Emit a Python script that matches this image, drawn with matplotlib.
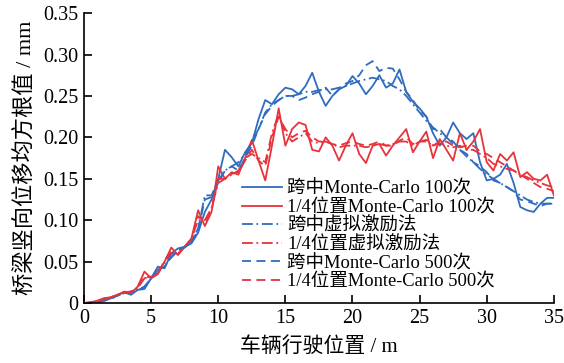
import numpy as np
import matplotlib
matplotlib.use('Agg')
import matplotlib.pyplot as plt

plt.rcParams['font.family'] = ['Liberation Serif', 'Noto Sans CJK SC']
plt.rcParams['axes.unicode_minus'] = False

# vehicle position (m), every 0.5 m
pos = np.arange(0, 35.01, 0.5)

# RMS bridge displacement (mm)
mid_mc100 = [0, 0, 0.001, 0.003, 0.006, 0.010, 0.013, 0.010, 0.016, 0.017,
             0.030, 0.044, 0.042, 0.060, 0.066, 0.068, 0.072, 0.085, 0.110, 0.125,
             0.150, 0.185, 0.176, 0.165, 0.182, 0.193, 0.222, 0.245, 0.240, 0.252,
             0.260, 0.258, 0.252, 0.262, 0.278, 0.255, 0.238, 0.250, 0.258, 0.262,
             0.274, 0.265, 0.252, 0.262, 0.275, 0.260, 0.265, 0.282, 0.255, 0.243,
             0.235, 0.225, 0.205, 0.190, 0.200, 0.218, 0.205, 0.198, 0.205, 0.170,
             0.148, 0.150, 0.155, 0.168, 0.145, 0.116, 0.112, 0.110, 0.120, 0.127,
             0.127]
qtr_mc100 = [0, 0.001, 0.003, 0.006, 0.007, 0.010, 0.014, 0.012, 0.020, 0.038,
             0.030, 0.035, 0.050, 0.067, 0.058, 0.068, 0.078, 0.112, 0.093, 0.110,
             0.165, 0.150, 0.158, 0.155, 0.175, 0.197, 0.172, 0.148, 0.190, 0.235,
             0.190, 0.210, 0.218, 0.215, 0.185, 0.183, 0.200, 0.190, 0.172, 0.190,
             0.205, 0.180, 0.169, 0.190, 0.192, 0.178, 0.190, 0.200, 0.210, 0.182,
             0.195, 0.207, 0.175, 0.198, 0.185, 0.172, 0.205, 0.185, 0.195, 0.210,
             0.170, 0.160, 0.180, 0.172, 0.182, 0.152, 0.158, 0.150, 0.148, 0.155,
             0.130]
mid_pem = [0, 0, 0.001, 0.003, 0.006, 0.009, 0.012, 0.014, 0.016, 0.020,
           0.030, 0.040, 0.045, 0.055, 0.063, 0.068, 0.075, 0.090, 0.130, 0.130,
           0.148, 0.160, 0.165, 0.170, 0.180, 0.195, 0.210, 0.230, 0.240, 0.245,
           0.250, 0.250, 0.252, 0.255, 0.255, 0.257, 0.258, 0.258, 0.260, 0.262,
           0.265, 0.268, 0.270, 0.272, 0.270, 0.268, 0.262, 0.258, 0.250, 0.240,
           0.230, 0.220, 0.212, 0.205, 0.200, 0.192, 0.185, 0.177, 0.170, 0.162,
           0.155, 0.150, 0.145, 0.140, 0.135, 0.130, 0.125, 0.122, 0.120, 0.120,
           0.120]
qtr_pem = [0, 0.001, 0.002, 0.005, 0.007, 0.010, 0.013, 0.014, 0.018, 0.030,
           0.032, 0.036, 0.050, 0.060, 0.060, 0.068, 0.078, 0.100, 0.100, 0.115,
           0.145, 0.150, 0.155, 0.160, 0.175, 0.180, 0.175, 0.170, 0.205, 0.228,
           0.205, 0.195, 0.200, 0.205, 0.195, 0.193, 0.195, 0.192, 0.188, 0.190,
           0.190, 0.190, 0.188, 0.190, 0.192, 0.190, 0.192, 0.195, 0.195, 0.190,
           0.195, 0.195, 0.190, 0.193, 0.190, 0.188, 0.190, 0.185, 0.185, 0.180,
           0.175, 0.168, 0.165, 0.162, 0.160, 0.155, 0.152, 0.148, 0.145, 0.142,
           0.140]
mid_mc500 = [0, 0, 0.001, 0.003, 0.005, 0.009, 0.012, 0.013, 0.016, 0.019,
             0.030, 0.041, 0.044, 0.056, 0.064, 0.067, 0.074, 0.088, 0.125, 0.128,
             0.145, 0.160, 0.165, 0.160, 0.175, 0.190, 0.210, 0.228, 0.238, 0.245,
             0.250, 0.250, 0.245, 0.248, 0.252, 0.255, 0.260, 0.250, 0.258, 0.265,
             0.268, 0.275, 0.287, 0.292, 0.280, 0.284, 0.283, 0.270, 0.255, 0.245,
             0.232, 0.225, 0.210, 0.210, 0.200, 0.195, 0.185, 0.180, 0.170, 0.165,
             0.158, 0.148, 0.145, 0.140, 0.135, 0.125, 0.123, 0.120, 0.117, 0.120,
             0.120]
qtr_mc500 = [0, 0.001, 0.002, 0.005, 0.007, 0.010, 0.013, 0.013, 0.019, 0.032,
             0.031, 0.035, 0.052, 0.062, 0.059, 0.068, 0.077, 0.105, 0.097, 0.112,
             0.150, 0.150, 0.156, 0.158, 0.172, 0.185, 0.172, 0.165, 0.200, 0.225,
             0.210, 0.200, 0.205, 0.208, 0.200, 0.195, 0.195, 0.192, 0.190, 0.193,
             0.195, 0.192, 0.190, 0.192, 0.195, 0.190, 0.190, 0.196, 0.200, 0.192,
             0.195, 0.197, 0.190, 0.195, 0.195, 0.190, 0.188, 0.190, 0.190, 0.183,
             0.180, 0.175, 0.170, 0.165, 0.160, 0.155, 0.150, 0.145, 0.140, 0.138,
             0.135]

labels = ['跨中Monte-Carlo 100次', '1/4位置Monte-Carlo 100次',
          '跨中虚拟激励法', '1/4位置虚拟激励法',
          '跨中Monte-Carlo 500次', '1/4位置Monte-Carlo 500次']

blue = '#2f6cbf'
red = '#e8323c'

fig = plt.figure(figsize=(5.64, 3.63), dpi=100)
ax = fig.add_axes([0.149, 0.165, 0.833, 0.799])

lw = 1.3
ax.plot(pos, mid_mc100, color=blue, lw=lw, label=labels[0])
ax.plot(pos, qtr_mc100, color=red, lw=lw, label=labels[1])
ax.plot(pos, mid_pem, color=blue, lw=lw, dashes=(6, 2, 1, 2), label=labels[2])
ax.plot(pos, qtr_pem, color=red, lw=lw, dashes=(6, 2, 1, 2), label=labels[3])
ax.plot(pos, mid_mc500, color=blue, lw=lw, dashes=(5, 3), label=labels[4])
ax.plot(pos, qtr_mc500, color=red, lw=lw, dashes=(5, 3), label=labels[5])

ax.set_xlim(0, 35)
ax.set_ylim(0, 0.35)
ax.set_xticks(np.arange(0, 36, 5))
ax.set_yticks(np.arange(0, 0.351, 0.05))
ax.set_yticklabels(['0'] + [f'{v:.2f}' for v in np.arange(0.05, 0.351, 0.05)])
ax.tick_params(direction='in', length=6, width=1.2, labelsize=14.5, pad=4)
for s in ['top', 'right']:
    ax.spines[s].set_visible(False)
for s in ['left', 'bottom']:
    ax.spines[s].set_linewidth(1.2)

ax.set_xlabel('车辆行驶位置 / m', fontsize=15, labelpad=7)
ax.set_ylabel('桥梁竖向位移均方根值 / mm', fontsize=16, labelpad=5)

ax.legend(loc='upper left', bbox_to_anchor=(0.32, 0.45), frameon=False,
          fontsize=13.3, handlelength=2.2, handletextpad=0.25,
          labelspacing=0.07, borderaxespad=0)

fig.savefig('out.png', dpi=100)
